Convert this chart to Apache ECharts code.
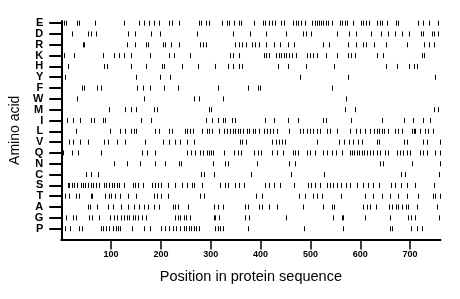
<!DOCTYPE html>
<html><head><meta charset="utf-8">
<script src="https://cdn.jsdelivr.net/npm/echarts@6/dist/echarts.min.js"></script>
<style>html,body{margin:0;padding:0;background:#fff}#c{width:460px;height:299px}</style>
</head><body><div id="c"></div>
<script>
// Amino acid rows, top to bottom
const aminoAcids = ['E','D','R','K','H','Y','F','W','M','I','L','V','Q','N','C','S','T','A','G','P'];
const xTicks = [100,200,300,400,500,600,700];
const seqLength = 761;

const posE = [6,9,31,35,68,125,156,166,176,186,196,216,223,236,277,281,290,297,323,333,337,347,356,360,387,404,409,416,423,429,441,446,466,471,476,481,489,504,509,513,517,521,525,531,536,543,559,564,569,573,586,601,606,611,617,633,639,643,653,671,676,715,726,738,756];
const posD = [21,54,59,69,133,148,180,199,272,344,378,411,451,485,492,501,553,577,591,621,641,656,669,683,697,721,726,743,748,755];
const posR = [43,46,131,147,171,175,204,209,221,236,278,284,290,349,357,363,371,383,389,397,411,427,439,454,468,525,538,575,591,605,611,627,651,693,728,738,748];
const posK = [6,25,83,105,116,126,139,178,216,227,259,339,345,356,406,411,416,431,436,441,446,451,456,463,471,494,499,505,514,532,553,575,581,589,634,645,723,728];
const posH = [14,86,92,139,170,202,207,242,275,309,334,345,357,363,435,455,492,548,651,673,698,708,713];
const posY = [7,149,198,218,480,575,750];
const posF = [41,46,71,79,151,163,179,206,234,314,375,394,399,544];
const posW = [32,165,267,276,325,572];
const posM = [1,95,128,139,149,186,193,297,301,569,590,748,755];
const posI = [11,23,38,59,66,83,88,159,181,291,303,314,325,329,342,349,409,426,454,475,525,532,582,643,688,705,725,739];
const posL = [29,98,118,128,139,146,149,189,196,216,223,248,253,259,264,283,293,297,303,316,326,333,339,344,349,355,359,364,373,377,384,389,397,406,413,418,424,433,457,479,486,493,499,506,513,519,533,539,553,579,591,599,609,619,628,633,638,643,648,655,669,676,683,704,707,709,719,729,736,745];
const posV = [16,24,37,53,86,93,111,127,168,205,216,228,239,253,266,358,363,371,423,431,437,443,449,513,557,567,577,586,596,604,633,637,688,693,726,733,759];
const posQ = [4,21,33,80,161,173,189,253,261,268,279,285,293,296,301,304,326,346,354,361,386,395,401,423,433,445,465,469,476,493,499,509,525,533,543,551,563,579,583,588,593,597,603,608,613,619,626,633,639,649,656,673,679,686,693,699,719,726,733,749,759];
const posN = [106,131,158,189,209,237,241,304,329,334,393,457,469,639,645,703,759];
const posC = [49,59,73,281,286,307,381,461,527,681,689,758];
const posS = [13,16,21,26,31,39,44,48,53,59,64,69,76,85,89,96,101,106,111,116,126,143,148,153,164,183,189,194,201,215,229,243,253,263,267,283,319,329,334,349,357,366,409,416,426,438,468,496,501,509,519,533,539,546,553,561,571,579,593,606,616,626,637,661,669,681,693,709,748];
const posT = [8,16,29,35,59,61,88,95,99,108,117,133,149,186,193,201,214,279,286,391,403,478,489,506,513,523,561,609,626,643,659,676,693,716,746,749,759];
const posA = [1,53,58,71,93,103,119,133,145,156,166,175,186,196,225,229,235,255,306,315,325,369,375,397,403,416,433,486,526,543,548,606,613,619,631,658,664,671,676,683,691,696,713,753];
const posG = [9,24,29,56,61,76,97,105,111,119,126,131,136,143,148,153,161,171,229,235,239,246,251,258,306,309,317,369,376,451,546,563,566,609,659,696,701,709,757];
const posP = [7,17,36,41,79,84,89,96,103,109,113,118,141,166,179,201,209,217,224,231,238,246,251,256,261,266,271,276,309,315,319,324,375,488,566,659,664,701,713,724];

const rows = [posE,posD,posR,posK,posH,posY,posF,posW,posM,posI,posL,posV,posQ,posN,posC,posS,posT,posA,posG,posP];
const nRows = aminoAcids.length;
const data = [];
rows.forEach((arr, i) => { const yv = nRows - i; arr.forEach(p => data.push([p, yv])); });
const rowValues = aminoAcids.map((a, i) => nRows - i);

const chart = echarts.init(document.getElementById('c'), null, {renderer: 'canvas'});
chart.setOption({
  animation: false,
  backgroundColor: '#fff',
  grid: {left: 58.5, right: 19.5, top: 21, bottom: 59.5},
  xAxis: {
    type: 'value', min: 0, max: seqLength,
    name: 'Position in protein sequence', nameLocation: 'middle', nameGap: 30,
    nameTextStyle: {fontFamily: 'Liberation Sans', fontSize: 14.5, color: '#000'},
    axisLine: {onZero: false, lineStyle: {color: '#000', width: 2}},
    axisTick: {show: true, length: 10, lineStyle: {color: '#000', width: 1.5}, customValues: xTicks},
    axisLabel: {customValues: xTicks, margin: 11, fontFamily: 'Liberation Sans', fontSize: 9, fontWeight: 'bold', color: '#000'},
    splitLine: {show: false}
  },
  yAxis: {
    type: 'value', min: 0, max: 20.2,
    name: 'Amino acid', nameLocation: 'middle', nameGap: 34, nameRotate: 90,
    nameTextStyle: {fontFamily: 'Liberation Sans', fontSize: 14, color: '#000'},
    axisLine: {show: true, onZero: false, lineStyle: {color: '#000', width: 2}},
    axisTick: {show: true, length: 12, lineStyle: {color: '#000', width: 2}, customValues: rowValues},
    axisLabel: {customValues: rowValues, margin: 18, fontFamily: 'Liberation Sans', fontSize: 11, fontWeight: 'bold', color: '#000',
      formatter: v => aminoAcids[nRows - Math.round(v)] || ''},
    splitLine: {show: false}
  },
  series: [{
    type: 'custom',
    data: data,
    renderItem: (params, api) => {
      const p = api.coord([api.value(0), api.value(1)]);
      const x = Math.round(p[0]) + 0.5;
      return {type: 'line', shape: {x1: x, y1: p[1] - 2.5, x2: x, y2: p[1] + 2.5},
        style: {stroke: '#000', lineWidth: 1}};
    }
  }]
});
</script></body></html>
